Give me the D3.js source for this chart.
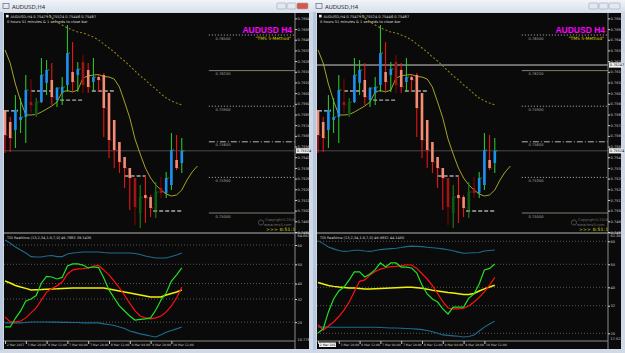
<!DOCTYPE html>
<html>
<head>
<meta charset="utf-8">
<script src="https://cdn.jsdelivr.net/npm/d3@7"></script>
<style>
  body { margin: 0; background: #d3dbe6; }
  svg { display: block; font-family: "DejaVu Sans", sans-serif; }
</style>
</head>
<body>
<svg id="chart" width="625" height="353"></svg>
<script>
// AUDUSD H4 candles
const candleOpen = [0.75868,0.75767,0.75699,0.75784,0.75809,0.75935,0.75826,0.75935,0.76096,0.76121,0.75952,0.76011,0.76079,0.76188,0.76163,0.76272,0.76205,0.76104,0.76146,0.76163,0.76011,0.75784,0.75598,0.75472,0.75379,0.75295,0.75000,0.75152,0.75135,0.75025,0.75211,0.75169,0.75236,0.75447,0.75421];
const candleHigh = [0.75868,0.75809,0.75994,0.75969,0.76163,0.76129,0.75969,0.76306,0.76289,0.76264,0.76062,0.76146,0.76584,0.76441,0.76272,0.76331,0.76264,0.76306,0.76163,0.76180,0.76011,0.75784,0.75598,0.75472,0.75379,0.75295,0.75236,0.75320,0.75152,0.75261,0.75303,0.75346,0.75674,0.75657,0.75632];
const candleLow = [0.75506,0.75514,0.75548,0.75674,0.75590,0.75843,0.75809,0.75927,0.75994,0.75910,0.75893,0.75910,0.76020,0.76020,0.76020,0.76011,0.76011,0.76020,0.76020,0.75640,0.75463,0.75379,0.75337,0.75211,0.75025,0.74899,0.74874,0.74916,0.74966,0.74958,0.75126,0.75126,0.75194,0.75362,0.75337];
const candleClose = [0.75657,0.75632,0.75868,0.75809,0.76036,0.75910,0.75935,0.76163,0.76205,0.75977,0.76053,0.76062,0.76348,0.76104,0.76213,0.76079,0.76062,0.76146,0.76121,0.75885,0.75615,0.75531,0.75430,0.75379,0.75295,0.75051,0.75135,0.75126,0.75042,0.75177,0.75169,0.75295,0.75531,0.75379,0.75524];
const candleDark = [0,0,0,0,0,1,1,0,0,0,0,0,0,0,0,1,0,0,0,0,0,0,0,0,0,1,1,0,0,1,1,0,0,0,0];

// moving averages (fast one is shifted 3 bars forward)
const fastMa = [0.76374,0.76264,0.76087,0.75944,0.75826,0.75826,0.75830,0.75851,0.75876,0.75902,0.75935,0.76020,0.76032,0.76020,0.76036,0.76138,0.76155,0.76163,0.76167,0.76150,0.76146,0.76129,0.76062,0.75935,0.75801,0.75624,0.75497,0.75379,0.75295,0.75236,0.75194,0.75160,0.75143,0.75152,0.75194,0.75278,0.75346,0.75396];
const slowMa = [null,null,null,null,null,null,null,null,0.76694,0.76643,0.76610,0.76584,0.76559,0.76542,0.76525,0.76517,0.76500,0.76483,0.76458,0.76424,0.76390,0.76357,0.76315,0.76281,0.76239,0.76197,0.76155,0.76121,0.76079,0.76045,0.76003,0.75969,0.75944,0.75927,0.75910];

// short support / resistance dashes
const srFrom = [0, 5, 10.6, 16.7, 23, 28.5];
const srTo = [2.5, 9.2, 15, 21, 27, 34];
const srPrice = [0.75860, 0.76028, 0.75952, 0.76028, 0.75312, 0.75017];

// level lines on the right
const levelPrice = [0.76500, 0.76200, 0.75900, 0.75600, 0.75300, 0.75000];
const levelStyle = ["dot", "solid", "dot", "dashdot", "dot", "solid"];

// axes
const priceTicks = [0.74840,0.74930,0.75020,0.75110,0.75200,0.75290,0.75380,0.75470,0.75560,0.75650,0.75740,0.75830,0.75920,0.76010,0.76100,0.76190,0.76280,0.76370,0.76460,0.76550,0.76640];
const timeTickIdx = [0, 4, 8, 12, 16, 20, 24, 28, 32];
const timeLabels = ["2 Mar 2017","3 Mar 20:00","6 Mar 12:00","7 Mar 04:00","7 Mar 20:00","8 Mar 12:00","9 Mar 04:00","9 Mar 20:00","10 Mar 12:00"];
const tdiLevels = [60, 50, 40, 32, 20];

// TDI, left window
const tdiGreenL = [17.5,17.5,22.0,25.8,31.0,32.0,33.8,40.3,43.7,43.4,42.4,43.2,49.1,50.2,50.2,49.6,48.1,48.6,48.3,42.9,36.7,32.5,28.4,25.8,23.2,21.1,21.4,21.7,22.2,26.3,31.5,35.1,41.3,44.5,48.1];
const tdiRedL = [22.7,20.1,20.1,20.6,22.2,24.8,27.4,31.5,35.6,37.5,38.8,40.8,45.0,47.0,47.6,47.8,48.1,49.1,49.4,47.0,44.5,41.3,37.7,33.8,29.7,25.8,23.2,22.2,21.7,22.2,23.2,25.3,28.4,32.5,38.2];
const tdiYellowL = [41.3,40.3,39.0,38.2,37.5,36.7,36.8,36.9,37.1,37.2,37.3,37.5,37.6,37.7,37.7,37.7,37.7,37.7,37.7,37.7,37.2,36.7,36.2,35.6,35.1,34.6,34.1,33.6,33.1,33.1,33.1,34.1,34.9,35.6,36.7];
const tdiUpperL = [62.6,61.0,59.0,57.4,55.9,54.0,53.8,53.8,54.3,54.6,54.0,54.0,55.3,55.9,56.1,56.4,56.4,56.4,56.4,56.1,55.9,55.9,55.9,55.9,55.9,55.6,55.1,54.3,53.8,53.3,53.3,53.3,54.0,54.8,55.9];
const tdiLowerL = [19.6,19.6,19.6,19.6,19.8,20.1,20.1,20.1,20.1,20.0,20.0,19.9,19.9,19.8,19.8,19.6,19.6,19.6,19.6,19.1,18.8,18.3,17.5,16.7,15.4,14.7,13.9,13.4,12.8,12.3,13.4,14.7,15.7,16.5,17.5];
const tdiEndsL = [64.663, 10.778];

// TDI, right window
const tdiGreenR = [20.1,21.9,29.3,34.9,38.4,40.1,43.2,46.7,46.7,44.5,45.8,47.7,50.6,48.8,50.6,50.6,48.8,48.8,48.4,46.2,41.0,37.1,34.9,33.6,30.6,28.4,31.4,31.4,31.4,35.3,37.1,41.4,47.5,48.2,50.1];
const tdiRedR = [23.8,21.4,23.2,24.9,27.3,30.1,33.6,38.2,42.6,43.2,45.3,46.9,47.9,48.5,49.0,49.1,49.3,49.8,49.7,48.2,45.9,43.6,40.7,37.3,33.8,31.0,30.6,30.6,30.9,31.9,33.6,35.6,38.0,41.0,44.3];
const tdiYellowR = [42.1,41.4,40.8,40.4,40.1,39.9,39.7,39.7,39.5,39.3,39.3,39.4,39.5,39.6,39.7,39.8,39.9,40.0,40.0,39.8,39.6,39.2,38.7,38.4,38.1,37.7,37.5,37.2,36.9,36.9,37.3,38.4,39.3,40.1,40.9];
const tdiUpperR = [60.3,59.0,57.5,56.7,56.0,55.6,55.8,56.1,56.1,55.8,55.6,56.0,56.4,56.6,56.8,57.0,57.3,57.7,57.9,57.8,57.7,57.4,57.2,57.0,56.7,56.3,55.9,55.3,54.8,54.9,55.0,55.1,55.8,56.0,56.2];
const tdiLowerR = [22.8,22.7,22.7,22.6,22.6,22.6,22.6,22.6,22.6,22.6,22.6,22.6,22.5,22.4,22.3,22.3,22.2,22.1,22.0,21.8,21.6,21.2,20.7,20.0,19.3,19.1,18.9,18.7,18.4,18.6,19.3,21.0,22.7,24.0,25.3];
const tdiEndsR = [62.304, 17.522];

const markedPrice = 0.76247;

const svg = d3.select("#chart");
const defs = svg.append("defs");
const grad = defs.append("linearGradient").attr("id", "titleGrad").attr("x1", 0).attr("y1", 0).attr("x2", 0).attr("y2", 1);
grad.append("stop").attr("offset", "0%").attr("stop-color", "#f1f4f8");
grad.append("stop").attr("offset", "100%").attr("stop-color", "#d9e0ea");

svg.append("rect").attr("width", 625).attr("height", 353).attr("fill", "#d3dbe6");

// one MT4 chart window
class MtWindow {
    constructor(_config) {
        this.config = {
            num: _config.num,
            left: _config.left,
            width: _config.width,
            active: _config.active,
            tdi: _config.tdi,
            tdiDomain: _config.tdiDomain,
            tdiRange: _config.tdiRange,
            tdiTitle: _config.tdiTitle,
            tdiEnds: _config.tdiEnds,
            marked: _config.marked
        };
        this.initVis();
    }

    initVis() {
        let vis = this;
        const w = vis.config.width;

        vis.g = svg.append("g").attr("transform", `translate(${vis.config.left},0)`);

        // frame + title bar
        vis.g.append("rect").attr("x", 0).attr("y", 0).attr("width", w).attr("height", 353).attr("fill", "#d0d9e5");
        vis.g.append("rect").attr("x", 0).attr("y", 12).attr("width", 3).attr("height", 338).attr("fill", "#b6c7de");
        vis.g.append("rect").attr("x", 0).attr("y", 0).attr("width", w).attr("height", 12).attr("fill", "url(#titleGrad)");
        vis.g.append("rect").attr("x", 3).attr("y", 3.5).attr("width", 6).attr("height", 5).attr("fill", "none").attr("stroke", "#5a6a80").attr("stroke-width", 0.7);
        vis.g.append("text").attr("x", 12).attr("y", 8.5).attr("font-size", 5.5).attr("fill", "#2a2a2a").text("AUDUSD,H4");
        [w - 36, w - 26].forEach(bx => {
            vis.g.append("rect").attr("x", bx).attr("y", 3).attr("width", 9).attr("height", 6)
                .attr("rx", 1).attr("fill", "#e4e9f0").attr("stroke", "#98a6b8").attr("stroke-width", 0.6);
        });
        vis.g.append("rect").attr("x", w - 16).attr("y", 3).attr("width", 11).attr("height", 6).attr("rx", 1)
            .attr("fill", vis.config.active ? "#d8564a" : "#e4e9f0").attr("stroke", "#98a6b8").attr("stroke-width", 0.6);

        // black chart area
        vis.g.append("rect").attr("x", 4).attr("y", 13).attr("width", w - 8).attr("height", 336).attr("fill", "#0a0a0a");

        vis.x = d3.scaleLinear().domain([0, 34]).range([5, 181.8]);
        vis.yPrice = d3.scaleLinear().domain([0.750, 0.765]).range([213, 35]);
        vis.yTdi = d3.scaleLinear().domain(vis.config.tdiDomain).range(vis.config.tdiRange);

        // clip rects live in the group's own (translated) coordinates
        defs.append("clipPath").attr("id", `clip-main-${vis.config.num}`)
            .append("rect").attr("x", 4).attr("y", 13).attr("width", 291).attr("height", 219);
        defs.append("clipPath").attr("id", `clip-tdi-${vis.config.num}`)
            .append("rect").attr("x", 4).attr("y", 235).attr("width", 291).attr("height", 106);

        vis.drawMain();
        vis.drawIndicator();
        vis.drawAxes();
    }

    drawMain() {
        let vis = this;
        const main = vis.g.append("g").attr("clip-path", `url(#clip-main-${vis.config.num})`);
        const bid = candleClose[candleClose.length - 1];

        // marked horizontal line (right window only)
        if (vis.config.marked) {
            main.append("line").attr("x1", 4).attr("x2", 295)
                .attr("y1", vis.yPrice(markedPrice)).attr("y2", vis.yPrice(markedPrice))
                .attr("stroke", "#cfcfcf").attr("stroke-width", 1);
        }

        // level lines with labels
        const dash = { dot: "1,2", dashdot: "6,2,1,2", solid: null };
        main.selectAll("line.level").data(levelPrice).join("line").attr("class", "level")
            .attr("x1", vis.x(39.2)).attr("x2", 295)
            .attr("y1", d => vis.yPrice(d)).attr("y2", d => vis.yPrice(d))
            .attr("stroke", (d, i) => levelStyle[i] === "solid" ? "#8c8c7a" : "#c8c8c8")
            .attr("stroke-width", 0.9)
            .attr("stroke-dasharray", (d, i) => dash[levelStyle[i]]);
        main.selectAll("text.level").data(levelPrice).join("text").attr("class", "level")
            .attr("x", vis.x(40.5)).attr("y", d => vis.yPrice(d) + 4.5)
            .attr("font-size", 3.6).attr("fill", "#a8a8a8")
            .text(d => d.toFixed(5));

        // bid line
        main.append("line").attr("x1", 4).attr("x2", 295)
            .attr("y1", vis.yPrice(bid)).attr("y2", vis.yPrice(bid))
            .attr("stroke", "#4a4a4a").attr("stroke-width", 1);

        // support / resistance dashes
        main.selectAll("line.sr").data(srPrice).join("line").attr("class", "sr")
            .attr("x1", (d, i) => vis.x(srFrom[i])).attr("x2", (d, i) => vis.x(srTo[i]))
            .attr("y1", d => vis.yPrice(d)).attr("y2", d => vis.yPrice(d))
            .attr("stroke", (d, i) => i === 0 ? "#b9c8dc" : "#a9a9a9")
            .attr("stroke-width", 1.3).attr("stroke-dasharray", "4,2");

        // slow MA (dotted)
        main.append("path").datum(slowMa)
            .attr("d", d3.line().defined(d => d !== null).x((d, i) => vis.x(i)).y(d => vis.yPrice(d)))
            .attr("fill", "none").attr("stroke", "#8c7e1c").attr("stroke-width", 1.1).attr("stroke-dasharray", "2,2");

        // fast MA (shifted)
        main.append("path").datum(fastMa)
            .attr("d", d3.line().x((d, i) => vis.x(i)).y(d => vis.yPrice(d)))
            .attr("fill", "none").attr("stroke", "#a3a32a").attr("stroke-width", 1);

        // candles
        const idx = d3.range(candleOpen.length);
        const palette = {
            bu: { wick: "#2ed22e", body: "#1e90f0" },
            be: { wick: "#ff1414", body: "#f58c74" },
            gd: { wick: "#1e8f1e", body: "#0d5c10" },
            bd: { wick: "#8b0000", body: "#a01414" }
        };
        const kind = i => candleClose[i] >= candleOpen[i]
            ? (candleDark[i] ? "gd" : "bu")
            : (candleDark[i] ? "bd" : "be");

        const bars = main.selectAll("g.candle").data(idx).join("g").attr("class", "candle");
        bars.append("line")
            .attr("x1", i => vis.x(i)).attr("x2", i => vis.x(i))
            .attr("y1", i => vis.yPrice(candleHigh[i])).attr("y2", i => vis.yPrice(candleLow[i]))
            .attr("stroke", i => palette[kind(i)].wick).attr("stroke-width", 1);
        bars.append("rect")
            .attr("x", i => vis.x(i) - 1.3).attr("width", 2.6)
            .attr("y", i => vis.yPrice(Math.max(candleOpen[i], candleClose[i])))
            .attr("height", i => Math.max(1, Math.abs(vis.yPrice(candleOpen[i]) - vis.yPrice(candleClose[i]))))
            .attr("fill", i => palette[kind(i)].body);
        bars.append("line")
            .attr("x1", i => vis.x(i) + 1.3).attr("x2", i => vis.x(i) + 2.6)
            .attr("y1", i => vis.yPrice(candleClose[i])).attr("y2", i => vis.yPrice(candleClose[i]))
            .attr("stroke", i => palette[kind(i)].wick).attr("stroke-width", 0.8);

        // header texts
        vis.g.append("rect").attr("x", 6).attr("y", 14.8).attr("width", 2.6).attr("height", 2.6).attr("fill", "#e8e8e8");
        vis.g.append("text").attr("x", 10.5).attr("y", 17.5).attr("font-size", 3.6).attr("fill", "#dcdcdc")
            .text("AUDUSD,H4  0.75479 0.75524 0.75446 0.75487");
        vis.g.append("text").attr("x", 7).attr("y", 22.5).attr("font-size", 3.6).attr("fill", "#dcdcdc")
            .text("0 hours 51 minutes & 1 seconds to close bar");

        vis.g.append("text").attr("x", 292).attr("y", 33).attr("text-anchor", "end")
            .attr("font-family", "Liberation Sans, Arial, sans-serif").attr("font-weight", "bold")
            .attr("font-size", 8.5).attr("fill", "#ff00ff").text("AUDUSD H4");
        vis.g.append("text").attr("x", 291).attr("y", 40).attr("text-anchor", "end")
            .attr("font-size", 4.4).attr("fill", "#d6d600").text("\"TMS 5-Method\"");

        // copyright + timer
        vis.g.append("circle").attr("cx", 261).attr("cy", 222.5).attr("r", 2.6).attr("fill", "none").attr("stroke", "#5a5a5a").attr("stroke-width", 0.8);
        vis.g.append("text").attr("x", 265).attr("y", 221).attr("font-size", 3.6).attr("fill", "#6e6e6e").text("Copyright©2016");
        vis.g.append("text").attr("x", 264).attr("y", 225.5).attr("font-size", 3.6).attr("fill", "#6e6e6e").text("www.tms5.com");
        vis.g.append("text").attr("x", 266).attr("y", 231).attr("font-size", 4.4).attr("fill", "#e6e600")
            .attr("letter-spacing", 0.3).text(">>> 0:51:1");

        // bid label on axis
        vis.g.append("rect").attr("x", 296).attr("y", vis.yPrice(bid) - 2.6).attr("width", 13.5).attr("height", 5.2).attr("fill", "#f2f2f2");
        vis.g.append("text").attr("x", 296.8).attr("y", vis.yPrice(bid) + 1.3).attr("font-size", 3.5).attr("fill", "#000").text(bid.toFixed(5));
        if (vis.config.marked) {
            vis.g.append("rect").attr("x", 296).attr("y", vis.yPrice(markedPrice) - 2.6).attr("width", 13.5).attr("height", 5.2).attr("fill", "#f2f2f2");
            vis.g.append("text").attr("x", 296.8).attr("y", vis.yPrice(markedPrice) + 1.3).attr("font-size", 3.5).attr("fill", "#000").text(markedPrice.toFixed(5));
        }
    }

    drawIndicator() {
        let vis = this;
        const t = vis.config.tdi;
        const ind = vis.g.append("g").attr("clip-path", `url(#clip-tdi-${vis.config.num})`);

        ind.selectAll("line.lvl").data(tdiLevels).join("line").attr("class", "lvl")
            .attr("x1", 4).attr("x2", 295)
            .attr("y1", d => vis.yTdi(d)).attr("y2", d => vis.yTdi(d))
            .attr("stroke", "#6a6a6a").attr("stroke-width", 0.8).attr("stroke-dasharray", "1,2");

        const line = d3.line().x((d, i) => vis.x(i)).y(d => vis.yTdi(d));
        const series = [
            { data: t.upper, color: "#1f6b8e", w: 1.1 },
            { data: t.lower, color: "#1f6b8e", w: 1.1 },
            { data: t.yellow, color: "#f2f200", w: 1.5 },
            { data: t.red, color: "#ff1010", w: 1.2 },
            { data: t.green, color: "#22e022", w: 1.2 }
        ];
        ind.selectAll("path.tdi").data(series).join("path").attr("class", "tdi")
            .attr("d", d => line(d.data))
            .attr("fill", "none").attr("stroke", d => d.color).attr("stroke-width", d => d.w);

        vis.g.append("text").attr("x", 7).attr("y", 239).attr("font-size", 3.5).attr("fill", "#d8d8d8")
            .text(vis.config.tdiTitle);
    }

    drawAxes() {
        let vis = this;
        const w = vis.config.width;

        vis.g.append("line").attr("x1", 295).attr("x2", 295).attr("y1", 13).attr("y2", 349)
            .attr("stroke", "#8a8a8a").attr("stroke-width", 1);
        vis.g.append("line").attr("x1", 4).attr("x2", w - 4).attr("y1", 233).attr("y2", 233)
            .attr("stroke", "#7c7c7c").attr("stroke-width", 1.6);
        vis.g.append("line").attr("x1", 4).attr("x2", 295).attr("y1", 341).attr("y2", 341)
            .attr("stroke", "#8a8a8a").attr("stroke-width", 1);

        // price axis
        vis.g.append("g").attr("transform", "translate(295,0)")
            .call(d3.axisRight(vis.yPrice).tickValues(priceTicks).tickFormat(d3.format(".5f")).tickSize(2))
            .attr("font-size", 3.5).attr("font-family", "DejaVu Sans, sans-serif").attr("color", "#d0d0d0")
            .call(g => g.select(".domain").remove())
            .call(g => g.selectAll("text").attr("x", 2.6));

        // TDI axis
        vis.g.append("g").attr("transform", "translate(295,0)")
            .call(d3.axisRight(vis.yTdi).tickValues(tdiLevels).tickFormat(d3.format("d")).tickSize(2))
            .attr("font-size", 3.5).attr("font-family", "DejaVu Sans, sans-serif").attr("color", "#d0d0d0")
            .call(g => g.select(".domain").remove())
            .call(g => g.selectAll("text").attr("x", 2.6));
        vis.g.selectAll("text.tdiEnd").data(vis.config.tdiEnds).join("text").attr("class", "tdiEnd")
            .attr("x", 297.5).attr("y", d => vis.yTdi(d) + 1.3)
            .attr("font-size", 3.5).attr("fill", "#d0d0d0").text(d => d.toFixed(3));

        // time axis
        const tAxis = vis.g.append("g").attr("transform", "translate(0,341)")
            .call(d3.axisBottom(vis.x).tickValues(timeTickIdx).tickFormat((d, i) => timeLabels[i]).tickSize(3))
            .attr("font-size", 3.1).attr("font-family", "DejaVu Sans, sans-serif").attr("color", "#c8c8c8")
            .call(g => g.select(".domain").remove())
            .call(g => g.selectAll("text").attr("x", 1.2).attr("y", 2.2).attr("dy", "0.75em").style("text-anchor", "start"));

        if (vis.config.marked) {
            tAxis.select(".tick").insert("rect", "text")
                .attr("x", 0.5).attr("y", 1.5).attr("width", 17).attr("height", 4.5).attr("fill", "#f2f2f2");
            tAxis.select(".tick text").attr("fill", "#000");
        }
    }
}

new MtWindow({
    num: 0, left: 0, width: 313, active: true,
    tdi: { green: tdiGreenL, red: tdiRedL, yellow: tdiYellowL, upper: tdiUpperL, lower: tdiLowerL },
    tdiDomain: [32, 50], tdiRange: [299, 264.3],
    tdiTitle: "TDI Realtime (13,2,34,1.6,7,0) 46.7883 39.1436",
    tdiEnds: tdiEndsL, marked: false
});

new MtWindow({
    num: 1, left: 313, width: 312, active: false,
    tdi: { green: tdiGreenR, red: tdiRedR, yellow: tdiYellowR, upper: tdiUpperR, lower: tdiLowerR },
    tdiDomain: [40, 50], tdiRange: [287.3, 264.3],
    tdiTitle: "TDI Realtime (13,2,34,1.6,7,0) 49.9832 44.1460",
    tdiEnds: tdiEndsR, marked: true
});
</script>
</body>
</html>
